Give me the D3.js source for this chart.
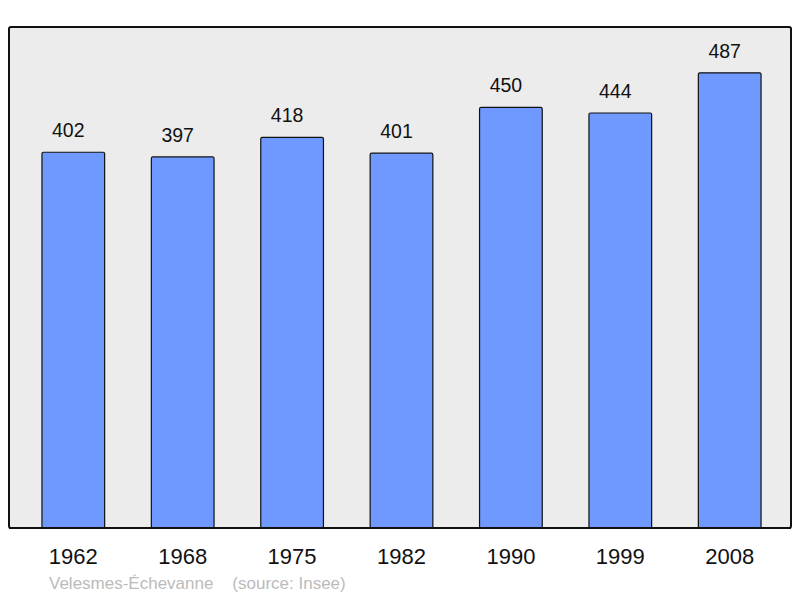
<!DOCTYPE html>
<html>
<head>
<meta charset="utf-8">
<script src="https://cdn.jsdelivr.net/npm/d3@7"></script>
<style>
  body { margin: 0; background: #fff; }
  svg { display: block; font-family: "Liberation Sans", Arial, sans-serif; }
</style>
</head>
<body>
<svg id="chart"></svg>
<script>
// données de population
const years = ["1962", "1968", "1975", "1982", "1990", "1999", "2008"];
const population = [402, 397, 418, 401, 450, 444, 487];
const communeName = "Velesmes-Échevanne";
const sourceLabel = "(source: Insee)";

const width = 800;
const height = 598;

const svg = d3.select("#chart")
  .attr("width", width)
  .attr("height", height);

// cadre du graphique
const frame = { left: 9, top: 27, right: 791, bottom: 528 };

svg.append("rect")
  .attr("x", frame.left)
  .attr("y", frame.top)
  .attr("width", frame.right - frame.left)
  .attr("height", frame.bottom - frame.top)
  .attr("rx", 2)
  .attr("fill", "#ececec")
  .attr("stroke", "#111")
  .attr("stroke-width", 2);

// échelles
const x = d3.scaleBand()
  .domain(years)
  .range([18.6, 784.4])
  .paddingInner(0.427)
  .paddingOuter(0.2135);

const y = d3.scaleLinear()
  .domain([0, 536])
  .range([frame.bottom, frame.top]);

// barres
svg.selectAll("rect.bar")
  .data(population)
  .enter()
  .append("rect")
  .attr("class", "bar")
  .attr("x", (d, i) => x(years[i]))
  .attr("y", d => y(d))
  .attr("width", x.bandwidth())
  .attr("height", d => y(0) - y(d))
  .attr("rx", 1.5)
  .attr("fill", "#7099ff")
  .attr("stroke", "#111")
  .attr("stroke-width", 1.2);

// étiquettes de valeur (légèrement décalées à gauche)
svg.selectAll("text.value")
  .data(population)
  .enter()
  .append("text")
  .attr("class", "value")
  .attr("x", (d, i) => x(years[i]) + x.bandwidth() / 2 - 5)
  .attr("y", d => y(d) - 15)
  .attr("text-anchor", "middle")
  .attr("font-size", 19.5)
  .attr("fill", "#111")
  .text(d => d);

// ligne du bas du cadre par-dessus les barres
svg.append("line")
  .attr("x1", frame.left)
  .attr("x2", frame.right)
  .attr("y1", frame.bottom)
  .attr("y2", frame.bottom)
  .attr("stroke", "#111")
  .attr("stroke-width", 2);

// années
svg.selectAll("text.year")
  .data(years)
  .enter()
  .append("text")
  .attr("class", "year")
  .attr("x", d => x(d) + x.bandwidth() / 2)
  .attr("y", 564)
  .attr("text-anchor", "middle")
  .attr("font-size", 22)
  .attr("fill", "#111")
  .text(d => d);

// source
svg.append("text")
  .attr("x", 49)
  .attr("y", 589)
  .attr("font-size", 17)
  .attr("fill", "#bbb")
  .style("white-space", "pre")
  .text(communeName + "    " + sourceLabel);
</script>
</body>
</html>
